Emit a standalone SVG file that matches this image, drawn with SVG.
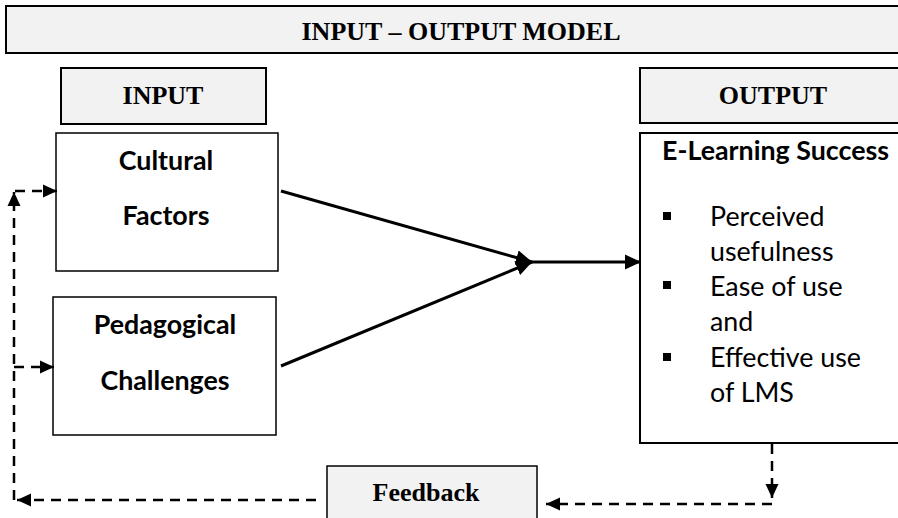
<svg xmlns="http://www.w3.org/2000/svg" width="898" height="518" viewBox="0 0 898 518">
<defs>
<style>
.hdr{fill:#f2f2f2;stroke:#000;stroke-width:2}
.box{fill:#fff;stroke:#000;stroke-width:1.5}
.ser{font-family:"Liberation Serif","Times New Roman",serif;font-weight:bold;font-size:26px;fill:#000;text-anchor:middle}
.bold{font-family:Lato,"Liberation Sans",sans-serif;font-weight:bold;font-size:26.8px;fill:#000}
.reg{font-family:Lato,"Liberation Sans",sans-serif;font-size:26.8px;fill:#000}
.solid{stroke:#000;stroke-width:3;fill:none}
.dash{stroke:#000;stroke-width:2.5;fill:none;stroke-dasharray:10 7}
</style>
<marker id="ah" markerUnits="userSpaceOnUse" markerWidth="16" markerHeight="16" refX="16" refY="8" orient="auto">
<path d="M0,0.5 L16,8 L0,15.5 z" fill="#000"/>
</marker>
<marker id="dh" markerUnits="userSpaceOnUse" markerWidth="14" markerHeight="14" refX="14" refY="7" orient="auto">
<path d="M0,0.5 L14,7 L0,13.5 z" fill="#000"/>
</marker>
</defs>

<g id="title">
<rect class="hdr" x="6" y="6" width="900" height="47"/>
<text class="ser" x="461" y="40">INPUT – OUTPUT MODEL</text>
</g>

<g id="input-header">
<rect class="hdr" x="61" y="68" width="205" height="56"/>
<text class="ser" x="163" y="104">INPUT</text>
</g>

<g id="output-header">
<rect class="hdr" x="640" y="68" width="270" height="55"/>
<text class="ser" x="773" y="104">OUTPUT</text>
</g>

<g id="cultural">
<rect class="box" x="56" y="133" width="222" height="138"/>
<text class="bold" x="166" y="170" text-anchor="middle">Cultural</text>
<text class="bold" x="166" y="225" text-anchor="middle">Factors</text>
</g>

<g id="pedagogical">
<rect class="box" x="53" y="297" width="223" height="138"/>
<text class="bold" x="165" y="334" text-anchor="middle">Pedagogical</text>
<text class="bold" x="165" y="390" text-anchor="middle">Challenges</text>
</g>

<g id="output">
<rect class="box" x="640" y="133" width="270" height="310" style="stroke-width:2"/>
<text class="bold" x="662" y="160">E-Learning Success</text>
<rect x="663" y="212" width="8" height="8" fill="#000"/>
<rect x="663" y="281" width="8" height="8" fill="#000"/>
<rect x="663" y="353" width="8" height="8" fill="#000"/>
<text class="reg" x="710" y="226">Perceived</text>
<text class="reg" x="710" y="261">usefulness</text>
<text class="reg" x="710" y="296">Ease of use</text>
<text class="reg" x="710" y="331">and</text>
<text class="reg" x="710" y="367">Effective use</text>
<text class="reg" x="710" y="402">of LMS</text>
</g>

<g id="feedback">
<rect class="hdr" x="327" y="466" width="210" height="60" style="stroke-width:1.5"/>
<text class="ser" x="426" y="501">Feedback</text>
</g>

<g id="connectors">
<line class="solid" x1="281" y1="191" x2="532" y2="262" marker-end="url(#ah)"/>
<line class="solid" x1="281" y1="366" x2="532" y2="262" marker-end="url(#ah)"/>
<line class="solid" x1="532" y1="262" x2="641" y2="262" marker-end="url(#ah)"/>
<line class="dash" x1="772" y1="444" x2="772" y2="498" marker-end="url(#dh)"/>
<line class="dash" x1="772" y1="504" x2="546" y2="504" marker-end="url(#dh)"/>
<line class="dash" x1="316" y1="500" x2="17" y2="500" marker-end="url(#dh)"/>
<line class="dash" x1="14" y1="500" x2="14" y2="192" marker-end="url(#dh)"/>
<line class="dash" x1="15" y1="191" x2="57" y2="191" marker-end="url(#dh)"/>
<line class="dash" x1="14" y1="367" x2="54" y2="367" marker-end="url(#dh)"/>
</g>
</svg>
